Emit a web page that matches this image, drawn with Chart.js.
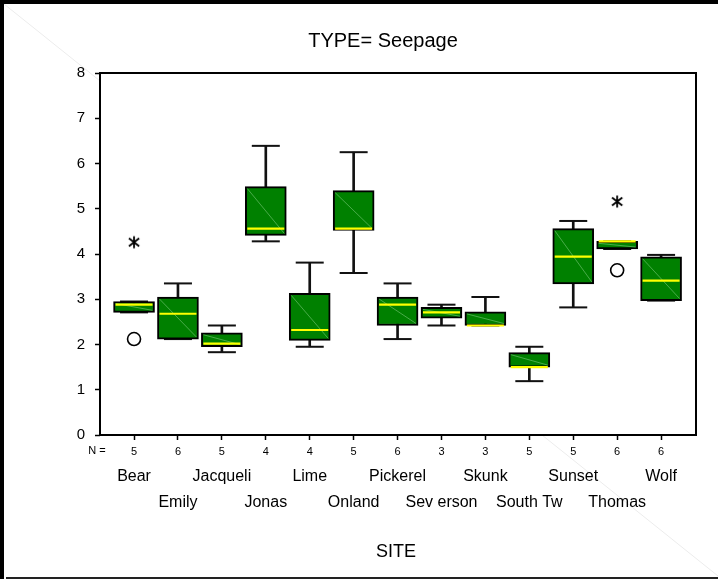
<!DOCTYPE html>
<html>
<head>
<meta charset="utf-8">
<title>TYPE= Seepage</title>
<script src="https://cdn.jsdelivr.net/npm/chart.js@4.4.0/dist/chart.umd.min.js"></script>
<style>
  html, body { margin: 0; padding: 0; background: #fff; }
  canvas { display: block; }
</style>
</head>
<body>
<canvas id="chart" width="718" height="579"></canvas>
<script>
// Sites along the x axis and the number of samples at each one
const sites = ['Bear', 'Emily', 'Jacqueli', 'Jonas', 'Lime', 'Onland', 'Pickerel',
  'Sev erson', 'Skunk', 'South Tw', 'Sunset', 'Thomas', 'Wolf'];
const counts = [5, 6, 5, 4, 4, 5, 6, 3, 3, 5, 5, 6, 6];

// Five-number summary per site
const lowWhisker  = [2.71, 2.12, 1.83, 4.28, 1.95, 3.58, 2.12, 2.42, 2.42, 1.19, 2.82, 4.11, 2.97];
const q1          = [2.71, 2.12, 1.95, 4.41, 2.09, 4.52, 2.42, 2.58, 2.42, 1.50, 3.34, 4.11, 2.97];
const median      = [2.88, 2.68, 2.02, 4.56, 2.32, 4.56, 2.88, 2.71, 2.42, 1.50, 3.94, 4.28, 3.41];
const q3          = [2.95, 3.05, 2.26, 5.49, 3.13, 5.40, 3.05, 2.82, 2.72, 1.82, 4.56, 4.28, 3.94];
const highWhisker = [2.95, 3.35, 2.42, 6.39, 3.81, 6.25, 3.35, 2.88, 3.05, 1.95, 4.73, 4.28, 3.98];

// Outliers (circles) and extremes (asterisks)
const outlierSites = ['Bear', 'Thomas'];
const outlierValues = [2.12, 3.64];
const extremeSites = ['Bear', 'Thomas'];
const extremeValues = [4.26, 5.16];

const yTicks = [0, 1, 2, 3, 4, 5, 6, 7, 8];

const FONT = '"Liberation Sans", Arial, Helvetica, sans-serif';
const GREEN = '#008000';

// six-armed asterisk used as a point style for extreme values
function asterisk() {
  const c = document.createElement('canvas');
  c.width = 16; c.height = 15;
  const g = c.getContext('2d');
  g.strokeStyle = '#000';
  g.lineWidth = 1.8;
  g.beginPath();
  g.moveTo(8, 1.5); g.lineTo(8, 13.5);
  [38, -38].forEach(a => {
    const r = a * Math.PI / 180;
    const dx = 6.5 * Math.cos(r), dy = 6.5 * Math.sin(r);
    g.moveTo(8 - dx, 7.5 - dy);
    g.lineTo(8 + dx, 7.5 + dy);
  });
  g.stroke();
  return c;
}

const pts = (arr) => arr.map((v, i) => ({ x: i, y: v }));

// page frame, background and the white plot area
const sheet = {
  id: 'sheet',
  beforeDraw(chart) {
    const { ctx, width, height, chartArea: a } = chart;
    ctx.save();
    ctx.fillStyle = '#fff';
    ctx.fillRect(0, 0, width, height);
    ctx.strokeStyle = '#ececec';
    ctx.lineWidth = 1;
    ctx.beginPath();
    ctx.moveTo(4, 4);
    ctx.lineTo(width, height - 3);
    ctx.stroke();
    ctx.fillStyle = '#000';
    ctx.fillRect(0, 0, width, 4);
    ctx.fillRect(0, 0, 4, height);
    ctx.fillStyle = '#222';
    ctx.fillRect(6, height - 2, width - 6, 2);
    ctx.fillStyle = '#fff';
    ctx.fillRect(a.left, a.top, a.right - a.left, a.bottom - a.top);
    ctx.restore();
  },
  // thin light diagonal across every box
  afterDatasetDraw(chart, args) {
    if (chart.data.datasets[args.index].label !== 'box') return;
    const ctx = chart.ctx;
    ctx.save();
    ctx.strokeStyle = 'rgba(140, 210, 140, 0.75)';
    ctx.lineWidth = 0.7;
    args.meta.data.forEach(bar => {
      const p = bar.getProps(['x', 'y', 'base', 'width'], true);
      const top = Math.min(p.y, p.base), bottom = Math.max(p.y, p.base);
      ctx.beginPath();
      ctx.moveTo(p.x - p.width / 2 + 2, top + 2);
      ctx.lineTo(p.x + p.width / 2 - 2, bottom - 2);
      ctx.stroke();
    });
    ctx.restore();
  },
  afterDraw(chart) {
    const { ctx, chartArea: a, scales } = chart;
    ctx.save();
    ctx.strokeStyle = '#000';
    ctx.lineWidth = 2;
    ctx.strokeRect(a.left, a.top, a.right - a.left, a.bottom - a.top);

    ctx.fillStyle = '#000';
    ctx.textAlign = 'center';
    ctx.textBaseline = 'middle';
    ctx.font = '20px ' + FONT;
    ctx.fillText('TYPE= Seepage', 383, 41);

    ctx.font = '11px ' + FONT;
    ctx.fillText('N =', 97, 451);

    ctx.font = '16px ' + FONT;
    sites.forEach((s, i) => {
      ctx.fillText(s, scales.x.getPixelForValue(i), i % 2 === 0 ? 477 : 503);
    });

    ctx.font = '18px ' + FONT;
    ctx.fillText('SITE', (a.left + a.right) / 2 - 2, 552);
    ctx.restore();
  }
};

new Chart(document.getElementById('chart'), {
  type: 'bar',
  data: {
    datasets: [
      {
        label: 'whisker',
        data: lowWhisker.map((v, i) => ({ x: i, y: [v, highWhisker[i]] })),
        backgroundColor: '#111',
        borderWidth: 0,
        barThickness: 2,
        grouped: false,
        order: 5
      },
      {
        type: 'scatter',
        label: 'caps',
        data: pts(lowWhisker).concat(pts(highWhisker)),
        pointStyle: 'line',
        pointRadius: 14,
        borderColor: '#111',
        borderWidth: 2,
        order: 4
      },
      {
        label: 'box',
        data: q1.map((v, i) => ({ x: i, y: [v, q3[i]] })),
        backgroundColor: GREEN,
        borderColor: '#000',
        borderWidth: 2,
        borderSkipped: false,
        barThickness: 41,
        grouped: false,
        order: 3
      },
      {
        type: 'scatter',
        label: 'median',
        data: pts(median),
        pointStyle: 'line',
        pointRadius: 18.5,
        borderColor: '#ffff00',
        borderWidth: 2.2,
        order: 2
      },
      {
        type: 'scatter',
        label: 'outlier',
        data: outlierSites.map((s, i) => ({ x: sites.indexOf(s), y: outlierValues[i] })),
        pointStyle: 'circle',
        pointRadius: 6.5,
        backgroundColor: '#fff',
        borderColor: '#000',
        borderWidth: 1.6,
        order: 1
      },
      {
        type: 'scatter',
        label: 'extreme',
        data: extremeSites.map((s, i) => ({ x: sites.indexOf(s), y: extremeValues[i] })),
        pointStyle: asterisk(),
        pointRadius: 6,
        order: 0
      }
    ]
  },
  options: {
    responsive: false,
    animation: false,
    events: [],
    layout: { padding: { top: 73, right: 22, bottom: 0, left: 0 } },
    plugins: {
      legend: { display: false },
      tooltip: { enabled: false },
      title: { display: false }
    },
    scales: {
      x: {
        type: 'linear',
        offset: false,
        min: -0.775,
        max: 12.795,
        afterFit: s => { s.height = 144; },
        afterBuildTicks: s => { s.ticks = sites.map((_, i) => ({ value: i })); },
        border: { display: false },
        grid: {
          offset: false,
          drawOnChartArea: false,
          drawTicks: true,
          tickLength: 5,
          tickColor: '#000',
          tickWidth: 1.5
        },
        ticks: {
          autoSkip: false,
          maxRotation: 0,
          padding: 5,
          color: '#000',
          font: { family: FONT, size: 11 },
          callback: v => counts[v]
        }
      },
      y: {
        min: 0,
        max: 8,
        afterFit: s => { s.width = 100; },
        afterBuildTicks: s => { s.ticks = yTicks.map(v => ({ value: v })); },
        border: { display: false },
        grid: {
          drawOnChartArea: false,
          drawTicks: true,
          tickLength: 5,
          tickColor: '#000',
          tickWidth: 1.5
        },
        ticks: {
          padding: 10,
          color: '#000',
          font: { family: FONT, size: 15 }
        }
      }
    }
  },
  plugins: [sheet]
});
</script>
</body>
</html>
